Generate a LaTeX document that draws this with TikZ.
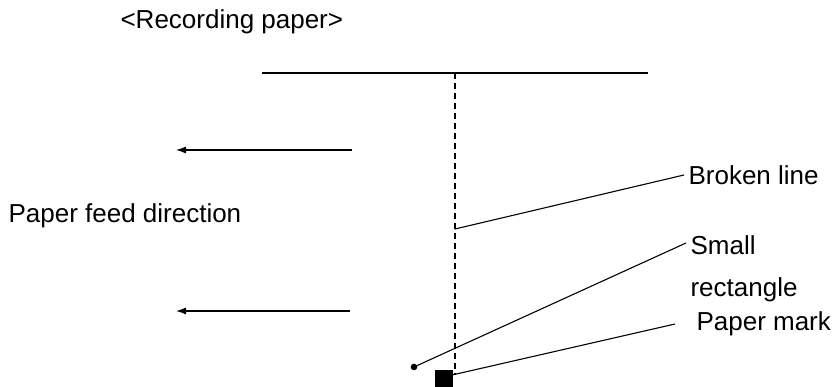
\documentclass[tikz,border=0pt]{standalone}
\usepackage{fontspec}
\setmainfont{Liberation Sans}
\usetikzlibrary{arrows.meta}
\begin{document}
\begin{tikzpicture}[x=1pt,y=1pt,line width=1.1pt,
  lbl/.style={anchor=west,inner sep=0pt,font=\fontsize{26}{31}\selectfont},
  leader/.style={line width=1.1pt}]
\useasboundingbox (0,0) rectangle (834,387);
\node[lbl] (title) at (120,365) {<Recording paper>};

% Paper edge and the broken line down the middle
\coordinate (edgeL) at (262,314);
\coordinate (edgeR) at (648,314);
\coordinate (top) at (455,314);
\coordinate (bot) at (455,12);
\draw (edgeL) -- (edgeR);
\draw[dashed,dash pattern=on 6pt off 4pt] (top) -- (bot);

% Feed direction arrows
\foreach \y/\xs/\nm in {237/352/fa,76/350/fb} {
  \coordinate (\nm s) at (\xs,\y);
  \coordinate (\nm e) at (176,\y);
  \draw[-{Latex[length=10pt,width=7pt]}] (\nm s) -- (\nm e);
}
\node[lbl] (feed) at (8,171) {Paper feed direction};

% Marks at the bottom of the broken line
\fill (414,20) circle (3.3pt) coordinate (dot);
\fill (435,-1) rectangle (453,17);
\coordinate (mark) at (452,12);
\coordinate (brk) at (455,158);

% Labels on the right
\node[lbl] (broken) at (688,212) {Broken line};
\node[lbl] (small) at (690,142) {Small};
\node[lbl] (rect) at (690,97) {rectangle};
\node[lbl] (paper) at (696,63) {Paper mark};

\draw[leader] (brk) -- ([xshift=-4pt]broken.west);
\draw[leader] (dot) -- ([xshift=-4pt,yshift=2pt]small.west);
\draw[leader] (mark) -- ([xshift=-21pt]paper.west);
\end{tikzpicture}
\end{document}
